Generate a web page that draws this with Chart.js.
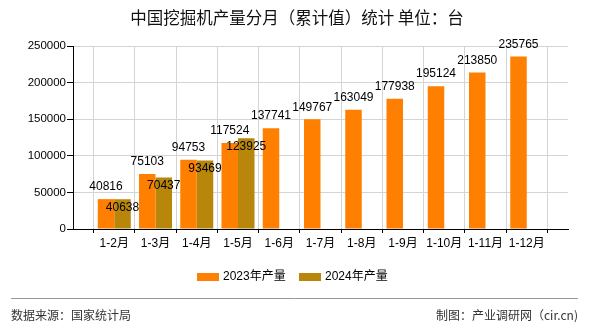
<!DOCTYPE html>
<html>
<head>
<meta charset="utf-8">
<script src="https://cdn.jsdelivr.net/npm/chart.js@4/dist/chart.umd.min.js"></script>
<style>
  html, body { margin: 0; padding: 0; background: #fff; }
  #wrap { width: 590px; height: 330px; position: relative; }
</style>
</head>
<body>
<div id="wrap"><canvas id="c" width="590" height="330"></canvas></div>
<script>
// Months (cumulative, Jan–Feb combined); blank slots pad both ends of the axis
const months = ['', '1-2月', '1-3月', '1-4月', '1-5月', '1-6月', '1-7月', '1-8月', '1-9月', '1-10月', '1-11月', '1-12月', ''];
const output2023 = [null, 40816, 75103, 94753, 117524, 137741, 149767, 163049, 177938, 195124, 213850, 235765, null];
const output2024 = [null, 40638, 70437, 93469, 123925, null, null, null, null, null, null, null, null];
const seriesNames = ['2023年产量', '2024年产量'];
const seriesColors = ['#FF8000', '#B8860B'];
const yTicks = [0, 50000, 100000, 150000, 200000, 250000];

const titleText = '中国挖掘机产量分月（累计值）统计 单位：台';
const sourceText = '数据来源：国家统计局';
const creditText = '制图：产业调研网（cir.cn)';

const latin = '"Liberation Sans", Arial, sans-serif';
const cjk = '"Liberation Sans", "Noto Sans CJK SC", sans-serif';

// Title, legend, footer and value labels
const decorations = {
  id: 'decorations',
  afterDatasetsDraw(chart) {
    const ctx = chart.ctx;
    ctx.save();
    ctx.fillStyle = '#000';
    ctx.font = '12px ' + latin;
    ctx.textAlign = 'center';
    ctx.textBaseline = 'middle';
    chart.data.datasets.forEach((ds, di) => {
      const meta = chart.getDatasetMeta(di);
      meta.data.forEach((bar, i) => {
        const v = ds.data[i];
        if (v == null) return;
        const y = di === 0 ? bar.y - 12 : bar.y + 8;
        ctx.fillText(String(v), bar.x, y);
      });
    });
    ctx.restore();
  },
  afterDraw(chart) {
    const ctx = chart.ctx;
    ctx.save();
    // title
    ctx.fillStyle = '#111';
    ctx.font = '16.5px "Noto Sans CJK SC", sans-serif';
    ctx.textAlign = 'center';
    ctx.textBaseline = 'middle';
    ctx.fillText(titleText, 297, 18);

    // legend
    ctx.font = '12px ' + cjk;
    ctx.textAlign = 'left';
    const lx = [197, 299];
    seriesNames.forEach((name, i) => {
      ctx.fillStyle = seriesColors[i];
      ctx.fillRect(lx[i], 273, 22, 8);
      ctx.fillStyle = '#000';
      ctx.fillText(name, lx[i] + 26, 277);
    });

    // footer
    ctx.strokeStyle = '#999';
    ctx.lineWidth = 1;
    ctx.beginPath();
    ctx.moveTo(11, 298.5);
    ctx.lineTo(578, 298.5);
    ctx.stroke();
    ctx.fillStyle = '#333';
    ctx.font = '12px "Noto Sans CJK SC", sans-serif';
    ctx.textAlign = 'left';
    ctx.fillText(sourceText, 11, 315);
    ctx.textAlign = 'right';
    ctx.fillText(creditText, 578, 315);
    ctx.restore();
  }
};

new Chart(document.getElementById('c'), {
  type: 'bar',
  data: {
    labels: months,
    datasets: [
      { label: seriesNames[0], data: output2023, backgroundColor: seriesColors[0] },
      { label: seriesNames[1], data: output2024, backgroundColor: seriesColors[1] }
    ]
  },
  options: {
    responsive: false,
    animation: false,
    devicePixelRatio: 1,
    layout: { padding: { left: 0, right: 22, top: 46, bottom: 81 } },
    datasets: { bar: { categoryPercentage: 0.8, barPercentage: 1.0 } },
    plugins: {
      legend: { display: false },
      title: { display: false },
      tooltip: { enabled: false }
    },
    scales: {
      x: {
        type: 'category',
        offset: false,
        grid: { color: '#d4d4d4', tickColor: '#000', tickLength: 4, lineWidth: 1 },
        border: { display: true, color: '#000', width: 1 },
        ticks: {
          autoSkip: false, maxRotation: 0, minRotation: 0,
          color: '#000', padding: 3,
          font: { family: cjk, size: 12 }
        },
        afterFit(scale) { scale.height = 20; }
      },
      y: {
        min: 0, max: 250000,
        afterBuildTicks(scale) { scale.ticks = yTicks.map(v => ({ value: v })); },
        grid: { color: '#d4d4d4', tickColor: '#000', tickLength: 6, lineWidth: 1 },
        border: { display: true, color: '#000', width: 1 },
        ticks: {
          color: '#000', padding: 1,
          font: { family: latin, size: 11.5 },
          callback: (v) => String(v)
        },
        afterFit(scale) { scale.width = 73; }
      }
    }
  },
  plugins: [decorations]
});
</script>
</body>
</html>
